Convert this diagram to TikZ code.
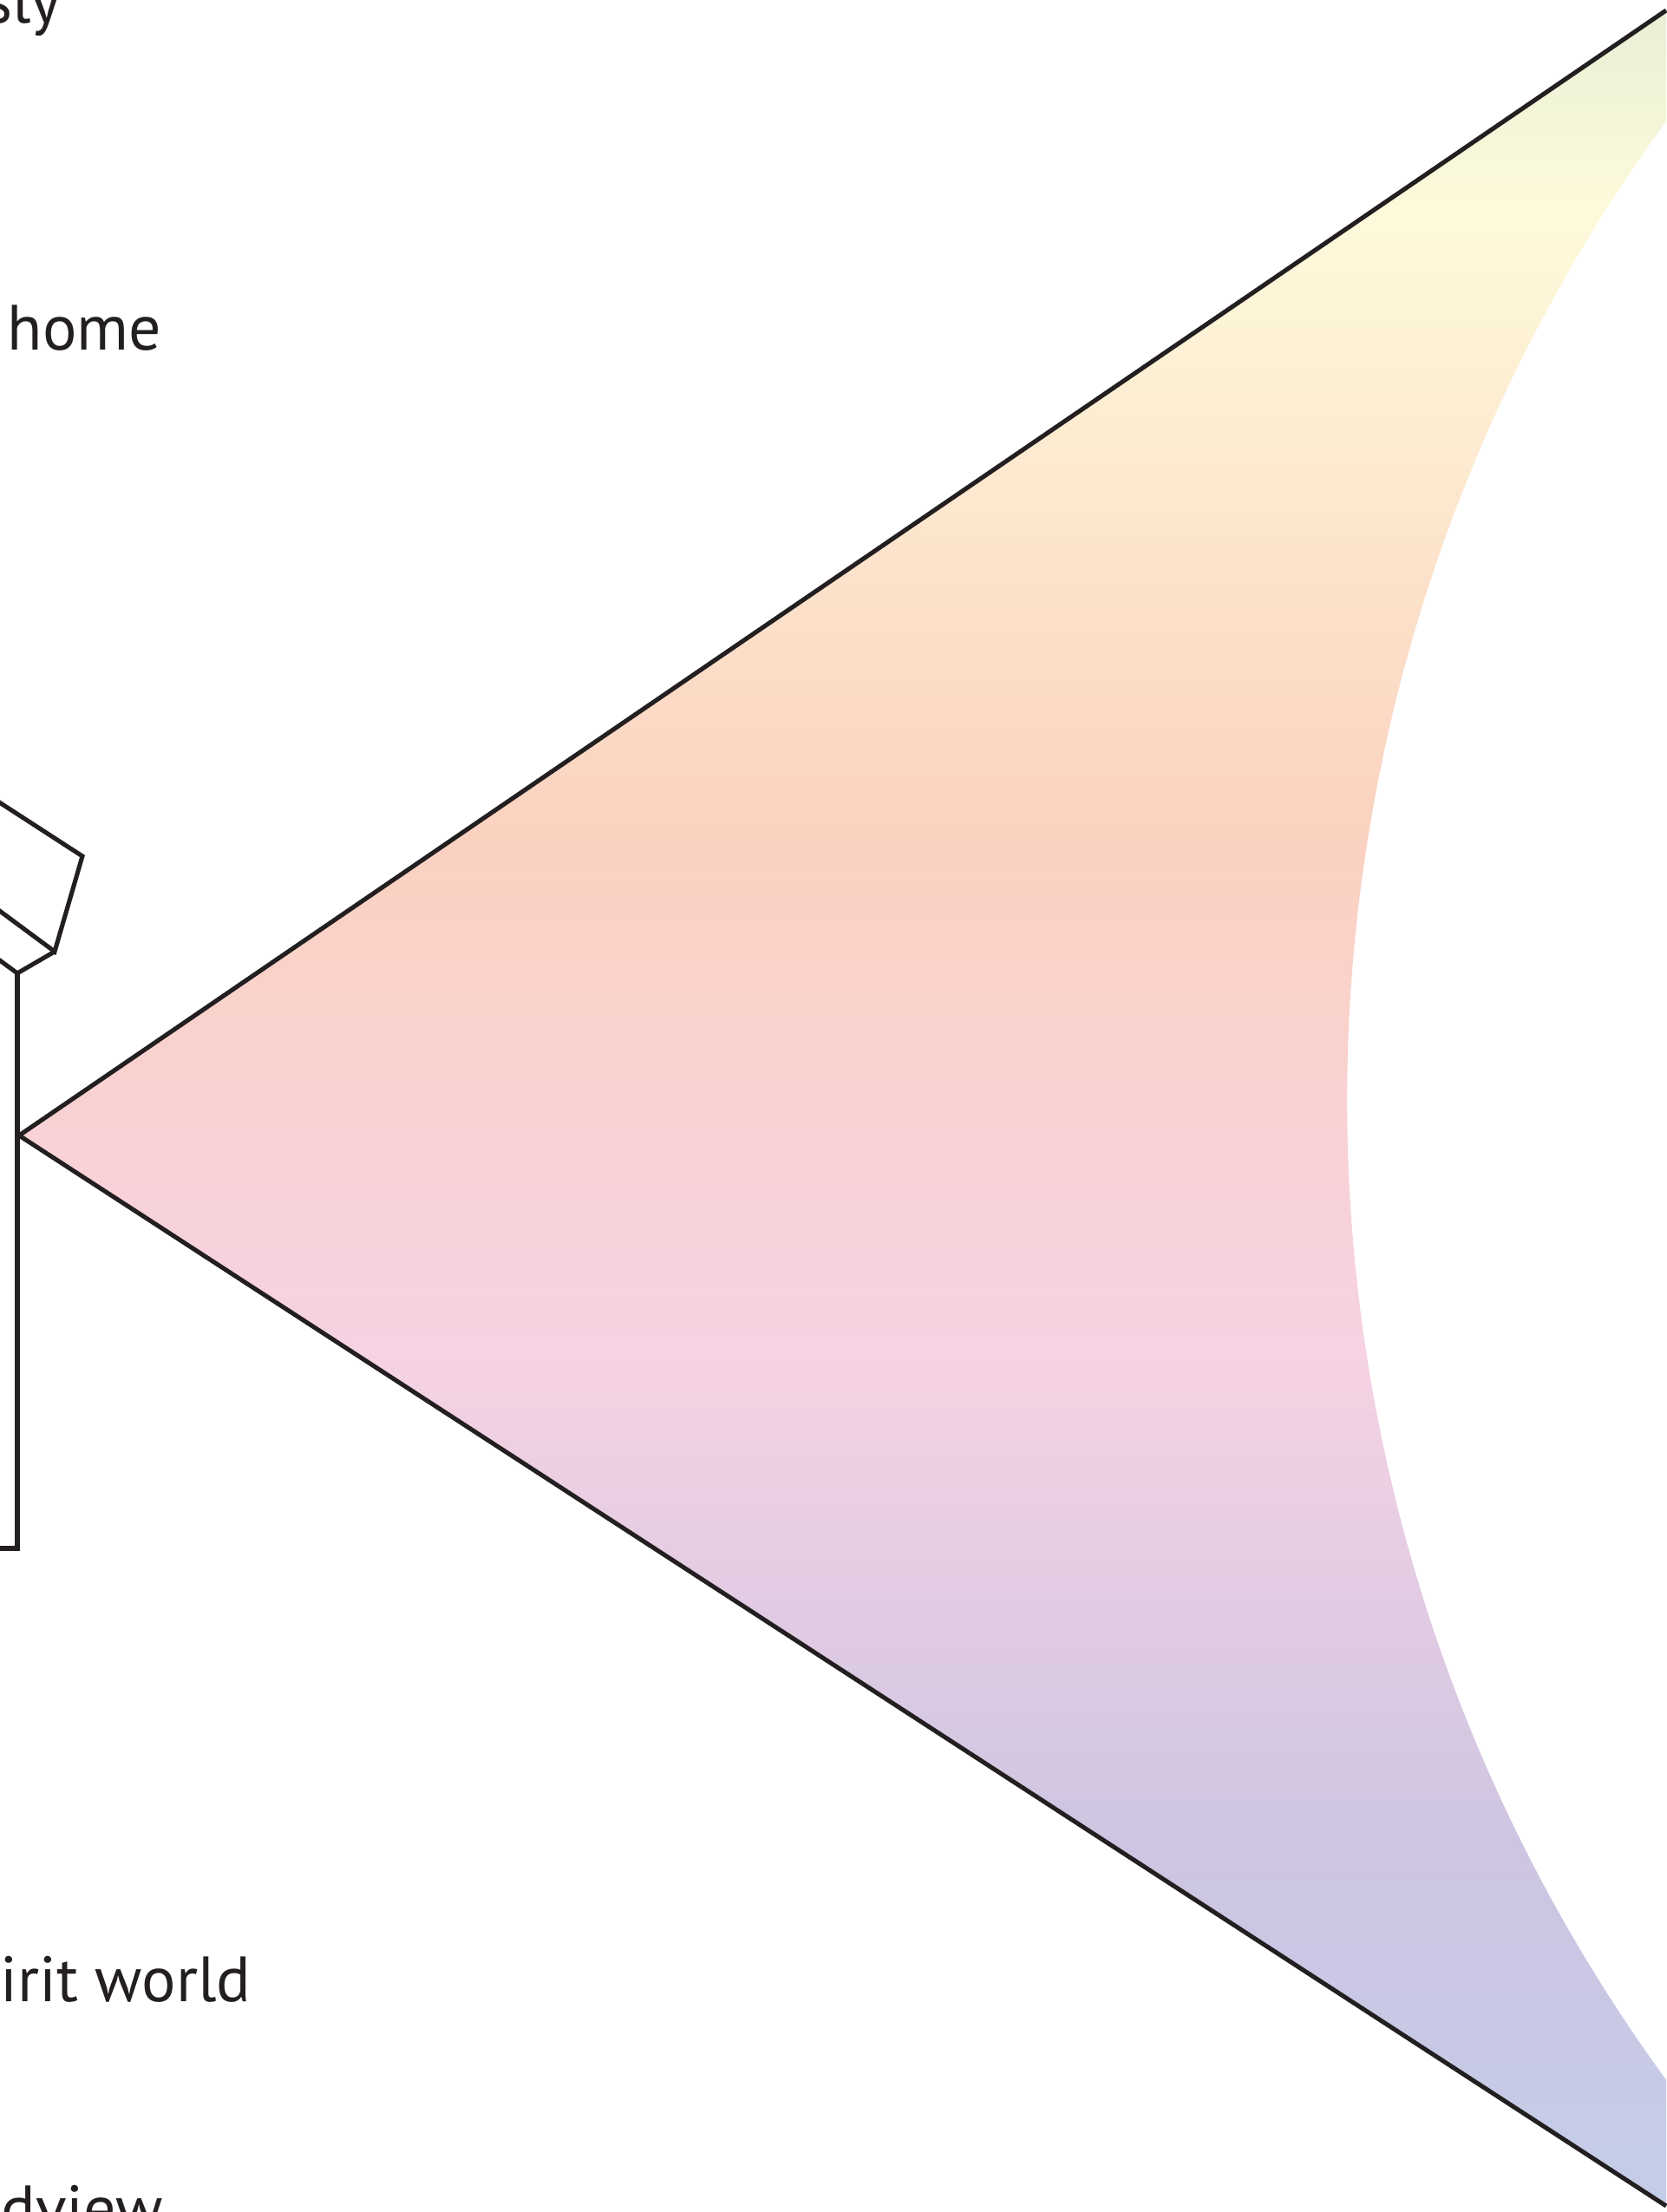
\documentclass[tikz,border=0pt]{standalone}
\usepackage{fontspec}
\setmainfont{PT Sans}
\usetikzlibrary{calc}
\definecolor{inkline}{HTML}{231F20}
\definecolor{fanblue}{HTML}{C4CDE8}
\definecolor{fanlilac}{HTML}{CDC5E2}
\definecolor{fanpink}{HTML}{F6D2E3}
\definecolor{fanpeach}{HTML}{FBD2C0}
\definecolor{fanyellow}{HTML}{FEFADB}
\definecolor{fangreen}{HTML}{E8F0D6}
\pgfdeclareverticalshading{fanshade}{100bp}{
  color(0bp)=(fanblue); color(25bp)=(fanblue); color(33bp)=(fanlilac);
  color(44.4bp)=(fanpink); color(56.3bp)=(fanpeach); color(70.5bp)=(fanyellow);
  color(75bp)=(fangreen); color(100bp)=(fangreen)
}
\tikzset{
  lbl/.style={anchor=base east, inner sep=0pt, text=inkline, font=\fontsize{21}{26}\selectfont},
  outline/.style={draw=inkline, line width=1.45pt, line join=miter}
}
\begin{document}
\begin{tikzpicture}
  \useasboundingbox (0,0) rectangle (19.21,25.5);
  % Labels cut by the left edge
  \foreach \name/\x/\y/\label in {
    lblsly/0.71/25.23/sly, lblhome/1.87/21.46/home, lblworld/2.90/2.42/pirit world, lblview/1.88/-0.22/dview
  } {
    \node[lbl] (\name) at (\x, \y) {\label};
  }
  % Fan
  \coordinate (apex) at (0.22,12.41);
  \coordinate (fantop) at (19.21,25.38);
  \coordinate (fanbot) at (19.21,0.07);
  \shade[shading=fanshade] (apex) -- (fantop) -- (19.21,24.10)
    arc[start angle=143.9, end angle=216.1, radius=19.16] -- (fanbot) -- cycle;
  \draw[outline] (fantop) -- (apex) -- (fanbot);
  % Post and roof
  \draw[outline] (-0.10,16.31) -- (0.95,15.63) -- (0.63,14.53) -- (-0.10,15.07);
  \draw[outline] (-0.10,14.50) -- (0.20,14.28) -- (0.63,14.53);
  \draw[outline] (0.20,14.28) -- (0.20,7.65) -- (-0.10,7.65);
\end{tikzpicture}
\end{document}
